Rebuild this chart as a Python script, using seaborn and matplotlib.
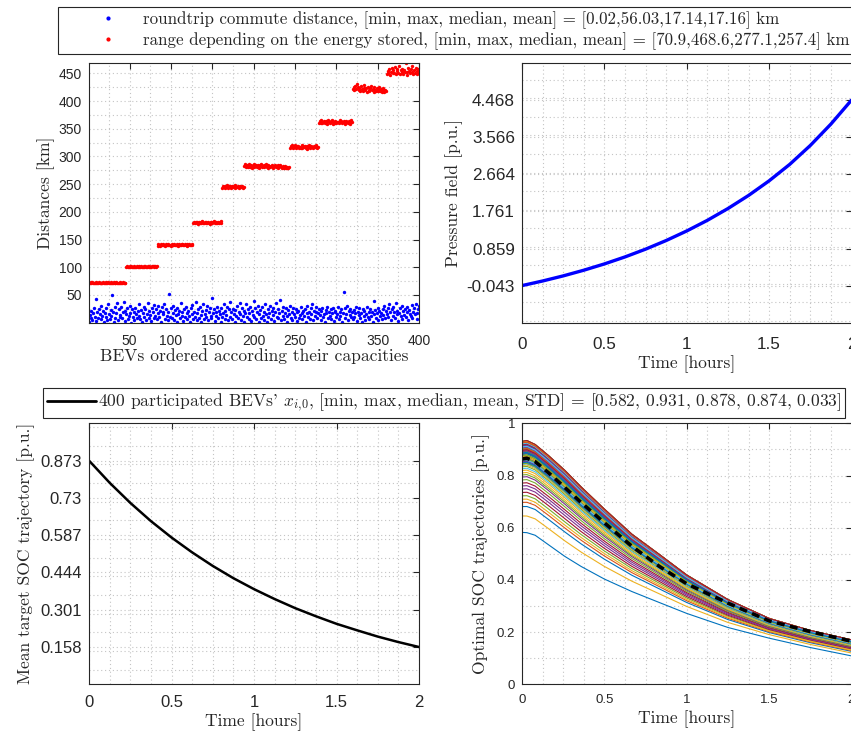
import numpy as np
import pandas as pd
import seaborn as sns
import matplotlib.pyplot as plt
from matplotlib.ticker import MultipleLocator
from matplotlib.lines import Line2D

sns.set_style("white")
plt.rcParams["font.family"] = ["Liberation Sans", "DejaVu Sans"]
plt.rcParams["mathtext.fontset"] = "cm"
plt.rcParams["axes.unicode_minus"] = False

SERIF = "cmr10"
INK = "#262626"
MATLAB_COLORS = ["#0072BD", "#D95319", "#EDB120", "#7E2F8E", "#77AC30", "#4DBEEE", "#A2142F"]

# roundtrip commute distance per BEV [km]
commute_km = [
    2, 14, 8, 21, 5, 17, 27, 11, 3, 42, 19, 9, 24, 15, 6, 30, 12, 22, 1, 18,
    26, 10, 4, 33, 16, 7, 23, 13, 50, 20, 2, 28, 9, 17, 35, 5, 25, 14, 11, 29,
    8, 19, 37, 3, 22, 15, 27, 6, 12, 31, 18, 0.02, 24, 10, 20, 4, 26, 16, 9, 21,
    13, 34, 7, 23, 2, 18, 29, 11, 25, 5, 16, 36, 9, 21, 14, 3, 27, 19, 8, 32,
    12, 24, 6, 17, 30, 10, 22, 1, 28, 15, 19, 33, 7, 25, 13, 4, 20, 52, 11, 26,
    9, 18, 31, 5, 23, 14, 2, 27, 16, 21, 8, 35, 12, 19, 3, 24, 10, 29, 6, 17,
    22, 13, 1, 26, 15, 32, 7, 20, 11, 38, 4, 18, 25, 9, 28, 14, 2, 21, 34, 6,
    16, 23, 10, 30, 5, 19, 27, 12, 8, 45, 17, 24, 3, 20, 13, 29, 9, 22, 15, 1,
    26, 11, 18, 33, 6, 21, 14, 28, 4, 24, 37, 10, 19, 7, 25, 16, 2, 23, 12, 31,
    8, 20, 35, 15, 5, 27, 13, 22, 1, 18, 34, 10, 24, 6, 17, 29, 3, 21, 14, 39,
    11, 26, 7, 19, 31, 2, 16, 23, 9, 28, 13, 5, 20, 33, 15, 1, 25, 10, 18, 30,
    6, 22, 14, 27, 3, 19, 35, 11, 24, 8, 17, 41, 4, 21, 13, 29, 7, 18, 26, 12,
    2, 23, 15, 31, 9, 20, 5, 27, 16, 11, 25, 3, 19, 22, 8, 14, 28, 17, 6, 21,
    13, 24, 1, 18, 30, 10, 20, 7, 26, 15, 33, 4, 22, 12, 19, 28, 9, 17, 25, 14,
    5, 21, 27, 11, 16, 2, 23, 18, 29, 8, 20, 13, 24, 6, 17, 26, 3, 19, 22, 10,
    15, 28, 7, 20, 12, 24, 1, 18, 56.03, 27, 9, 16, 31, 4, 22, 14, 25, 10, 19, 6,
    23, 11, 17, 29, 3, 20, 14, 26, 8, 18, 2, 24, 12, 21, 5, 16, 28, 10, 19, 7,
    25, 13, 20, 1, 40, 15, 23, 9, 17, 27, 4, 21, 12, 18, 6, 24, 14, 30, 8, 22,
    16, 26, 11, 33, 19, 5, 24, 13, 28, 20, 9, 35, 15, 22, 3, 18, 27, 12, 31, 7,
    21, 14, 25, 10, 19, 29, 4, 23, 16, 12, 32, 8, 20, 27, 15, 33, 6, 18, 24, 30,
]

# range depending on the energy stored [km], BEVs ordered by capacity
range_km = [
    72.3, 71.8, 72.6, 71.2, 72.9, 72.1, 71.5, 72.4, 73.0, 71.9, 72.2, 70.9, 72.7, 71.6, 72.5,
    72.0, 71.4, 73.2, 72.3, 71.7, 72.8, 72.1, 71.3, 72.6, 71.9, 72.4, 73.1, 71.8, 72.2, 71.5,
    72.7, 72.0, 71.6, 72.9, 72.3, 71.2, 72.5, 71.8, 72.6, 72.1, 71.4, 72.8, 72.0, 71.7, 72.3,
    100.2, 101.5, 99.8, 101.1, 102.0, 100.6, 101.8, 100.1, 101.3, 102.2, 100.7, 101.0, 99.9,
    101.6, 100.4, 102.1, 101.2, 100.8, 101.9, 100.3, 101.4, 102.4, 100.9, 101.7, 100.0, 101.3,
    102.6, 100.5, 101.8, 101.1, 100.6, 102.0, 101.5, 100.2, 101.9, 102.3, 101.0, 101.6,
    139.2, 141.5, 140.1, 138.8, 141.9, 140.6, 139.5, 142.2, 140.9, 139.1, 141.3, 140.3, 142.5,
    139.7, 141.0, 140.7, 138.9, 141.8, 140.2, 139.6, 142.0, 141.1, 139.9, 140.5, 142.4, 139.3,
    141.6, 140.8, 139.4, 141.2, 142.7, 140.0, 139.8, 141.4, 140.4, 141.7, 139.0, 140.9, 142.1,
    139.5, 140.6, 141.3, 139.7,
    179.3, 181.8, 180.2, 182.4, 179.9, 181.1, 178.7, 182.0, 180.6, 179.5, 181.5, 183.0, 180.0,
    179.1, 181.9, 180.8, 182.6, 179.7, 181.3, 180.4, 178.9, 182.2, 181.0, 179.6, 180.9, 182.8,
    180.3, 179.2, 181.6, 180.7, 182.1, 179.8, 181.4, 183.2, 180.5,
    243.5, 246.8, 244.2, 247.5, 242.9, 245.6, 248.1, 243.8, 246.2, 244.7, 247.0, 242.6, 245.9,
    244.0, 246.5, 243.2, 247.8, 245.3, 244.4, 246.9, 243.6, 245.1, 247.3, 244.8, 246.0, 243.9,
    245.5,
    283.5, 286.0, 281.2, 284.8, 280.5, 282.9, 285.6, 281.8, 284.1, 279.9, 283.3, 286.4, 281.0,
    282.6, 285.0, 280.8, 284.4, 282.0, 279.6, 283.8, 285.9, 281.5, 282.8, 284.6, 280.2, 283.1,
    286.2, 281.3, 279.8, 284.0, 282.4, 280.6, 283.6, 285.3, 281.1, 279.4, 282.7, 284.9, 280.3,
    281.9, 283.9, 279.1, 282.2, 285.4, 280.7, 278.8, 282.5, 281.6, 279.5, 283.4, 280.0, 278.6,
    281.4, 279.3, 280.9,
    315.2, 318.9, 316.4, 319.8, 314.6, 317.5, 320.2, 315.9, 318.1, 316.8, 319.3, 314.9, 317.9,
    316.1, 320.6, 315.5, 318.6, 317.2, 319.5, 316.0, 314.3, 318.3, 317.0, 320.0, 315.7, 316.6,
    319.1, 317.7, 315.0, 318.8, 316.3, 319.9, 317.4, 314.8, 316.9,
    360.5, 363.8, 361.2, 365.0, 359.6, 362.7, 364.4, 360.1, 363.2, 361.8, 358.9, 364.9, 362.1,
    360.8, 363.5, 361.4, 365.6, 359.3, 362.9, 361.0, 364.1, 360.3, 363.0, 362.4, 359.8, 365.3,
    361.6, 363.7, 360.0, 362.2, 364.6, 361.3, 359.1, 363.4, 362.0, 360.6, 364.0, 358.7, 361.9,
    366.5, 362.6,
    421.5, 424.8, 419.6, 427.3, 422.0, 430.2, 425.1, 420.4, 423.7, 418.8, 426.5, 421.9, 417.6,
    424.0, 428.4, 419.9, 422.6, 416.8, 425.6, 420.7, 418.2, 423.3, 427.0, 419.1, 421.2, 416.3,
    424.4, 420.0, 418.6, 422.9, 417.4, 420.9, 425.3, 418.0, 421.6, 416.9, 419.4, 423.0, 417.1,
    420.3, 418.4,
    448.2, 454.6, 450.9, 457.8, 446.5, 452.3, 459.4, 449.7, 455.8, 451.1, 461.2, 447.9, 453.5,
    457.0, 450.2, 462.8, 448.8, 455.1, 452.7, 458.6, 449.3, 456.4, 451.8, 468.6, 453.0, 447.4,
    459.9, 454.2, 450.6, 457.3, 452.0, 463.5, 449.0, 455.5, 451.4, 460.4, 453.8, 448.5, 456.9,
    452.5,
]

# pressure field over time
pressure_t = [0, 0.125, 0.25, 0.375, 0.5, 0.625, 0.75, 0.875, 1.0,
              1.125, 1.25, 1.375, 1.5, 1.625, 1.75, 1.875, 2.0]
pressure_pu = [-0.043, 0.069, 0.193, 0.331, 0.484, 0.654, 0.843, 1.053, 1.286,
               1.544, 1.831, 2.149, 2.505, 2.905, 3.365, 3.885, 4.468]
pressure_ticks = [-0.043, 0.859, 1.761, 2.664, 3.566, 4.468]

# mean target SOC trajectory
target_t = pressure_t
target_soc = [0.873, 0.788, 0.711, 0.641, 0.578, 0.521, 0.469, 0.422, 0.380,
              0.342, 0.307, 0.276, 0.247, 0.222, 0.198, 0.177, 0.158]
target_ticks = [0.158, 0.301, 0.444, 0.587, 0.73, 0.873]

# optimal SOC trajectories: lowest and highest BEV, and the mean (dashed)
traj_t = [0, 0.03, 0.08, 0.16, 0.26, 0.36, 0.5, 0.667, 0.833, 1.0, 1.25, 1.5, 1.75, 2.0]
soc_lowest = [0.583, 0.582, 0.572, 0.536, 0.491, 0.452, 0.404, 0.356, 0.314, 0.272, 0.218, 0.177, 0.141, 0.109]
soc_highest = [0.929, 0.932, 0.917, 0.875, 0.818, 0.754, 0.670, 0.574, 0.497, 0.418, 0.324, 0.252, 0.206, 0.170]
soc_mean = [0.863, 0.866, 0.853, 0.811, 0.754, 0.696, 0.619, 0.529, 0.452, 0.385, 0.311, 0.243, 0.202, 0.165]

# initial SOC x_i0 of the 400 BEVs
soc_init = [
    0.582, 0.889, 0.645, 0.901, 0.872, 0.915, 0.858, 0.681, 0.697, 0.884, 0.926, 0.722, 0.866, 0.735, 0.893, 0.878, 0.709, 0.907, 0.851, 0.919,
    0.874, 0.896, 0.862, 0.911, 0.748, 0.883, 0.929, 0.869, 0.903, 0.855, 0.890, 0.760, 0.917, 0.876, 0.844, 0.899, 0.881, 0.923, 0.866, 0.906,
    0.887, 0.771, 0.912, 0.859, 0.895, 0.879, 0.931, 0.868, 0.902, 0.847, 0.885, 0.918, 0.873, 0.783, 0.908, 0.864, 0.892, 0.880, 0.924, 0.856,
    0.897, 0.870, 0.914, 0.852, 0.888, 0.905, 0.794, 0.877, 0.921, 0.861, 0.894, 0.882, 0.909, 0.848, 0.886, 0.927, 0.871, 0.899, 0.863, 0.913,
    0.880, 0.802, 0.904, 0.867, 0.890, 0.916, 0.857, 0.884, 0.898, 0.875, 0.922, 0.853, 0.891, 0.810, 0.910, 0.869, 0.887, 0.928, 0.860, 0.900,
    0.876, 0.913, 0.849, 0.893, 0.882, 0.906, 0.865, 0.819, 0.920, 0.878, 0.896, 0.854, 0.911, 0.886, 0.872, 0.925, 0.862, 0.889, 0.903, 0.845,
    0.894, 0.879, 0.917, 0.858, 0.826, 0.901, 0.870, 0.888, 0.923, 0.864, 0.897, 0.881, 0.908, 0.851, 0.891, 0.919, 0.874, 0.833, 0.905, 0.868,
    0.885, 0.912, 0.856, 0.899, 0.877, 0.926, 0.863, 0.892, 0.909, 0.838, 0.883, 0.871, 0.915, 0.860, 0.895, 0.880, 0.930, 0.866, 0.902, 0.843,
    0.890, 0.875, 0.918, 0.852, 0.887, 0.907, 0.869, 0.897, 0.921, 0.859, 0.884, 0.914, 0.873, 0.893, 0.850, 0.910, 0.878, 0.924, 0.865, 0.900,
    0.882, 0.916, 0.857, 0.889, 0.904, 0.871, 0.927, 0.862, 0.896, 0.879, 0.911, 0.846, 0.886, 0.920, 0.868, 0.898, 0.876, 0.908, 0.855, 0.893,
    0.880, 0.922, 0.864, 0.901, 0.874, 0.913, 0.849, 0.888, 0.905, 0.870, 0.929, 0.860, 0.894, 0.883, 0.917, 0.853, 0.891, 0.878, 0.910, 0.867,
    0.899, 0.876, 0.923, 0.858, 0.886, 0.906, 0.872, 0.895, 0.915, 0.844, 0.884, 0.902, 0.869, 0.919, 0.861, 0.890, 0.881, 0.926, 0.856, 0.897,
    0.877, 0.911, 0.866, 0.892, 0.904, 0.851, 0.887, 0.921, 0.873, 0.900, 0.859, 0.914, 0.882, 0.896, 0.868, 0.925, 0.847, 0.889, 0.908, 0.875,
    0.893, 0.863, 0.918, 0.879, 0.901, 0.854, 0.886, 0.912, 0.870, 0.897, 0.930, 0.857, 0.884, 0.906, 0.865, 0.891, 0.920, 0.850, 0.880, 0.909,
    0.871, 0.898, 0.862, 0.916, 0.883, 0.903, 0.848, 0.890, 0.924, 0.874, 0.895, 0.858, 0.913, 0.878, 0.887, 0.907, 0.866, 0.922, 0.853, 0.894,
    0.882, 0.910, 0.869, 0.899, 0.876, 0.927, 0.860, 0.889, 0.904, 0.846, 0.885, 0.917, 0.872, 0.893, 0.856, 0.911, 0.879, 0.901, 0.864, 0.920,
    0.888, 0.852, 0.905, 0.877, 0.915, 0.867, 0.896, 0.881, 0.923, 0.859, 0.892, 0.908, 0.873, 0.845, 0.900, 0.884, 0.919, 0.863, 0.890, 0.876,
    0.912, 0.855, 0.897, 0.880, 0.926, 0.868, 0.886, 0.903, 0.850, 0.894, 0.875, 0.916, 0.861, 0.889, 0.907, 0.871, 0.899, 0.882, 0.921, 0.857,
    0.891, 0.874, 0.910, 0.865, 0.898, 0.883, 0.928, 0.853, 0.887, 0.905, 0.870, 0.914, 0.879, 0.895, 0.858, 0.902, 0.884, 0.918, 0.866, 0.893,
    0.878, 0.906, 0.862, 0.921, 0.885, 0.849, 0.900, 0.873, 0.913, 0.889, 0.857, 0.896, 0.881, 0.925, 0.868, 0.892, 0.876, 0.909, 0.931, 0.886,
]

legend_top = [
    "roundtrip commute distance, [min, max, median, mean] = [0.02,56.03,17.14,17.16] km",
    "range depending on the energy stored, [min, max, median, mean] = [70.9,468.6,277.1,257.4] km",
]
legend_bottom = ("400 participated BEVs' $x_{i,\\!0}$, [min, max, median, mean, STD] = "
                 "[0.582, 0.931, 0.878, 0.874, 0.033]")

LABEL_SIZE = 12.6


def matlab_axes(ax, xminor, yminor, ticksize, xpad):
    for s in ax.spines.values():
        s.set_color(INK)
        s.set_linewidth(0.8)
    ax.xaxis.set_minor_locator(MultipleLocator(xminor))
    ax.yaxis.set_minor_locator(MultipleLocator(yminor))
    ax.tick_params(which="major", direction="in", length=4, width=0.8,
                   top=True, right=True, labelsize=ticksize, colors=INK, pad=5)
    ax.tick_params(axis="x", which="major", pad=xpad)
    ax.tick_params(which="minor", length=0)
    ax.grid(True, which="both", linestyle=(0, (1, 2.5)), color="#c4c4c4", linewidth=0.8)
    ax.set_axisbelow(True)


def serif_labels(ax, xlabel, ylabel, xpad=2, ypad=4):
    ax.set_xlabel(xlabel, family=SERIF, fontsize=LABEL_SIZE, color=INK, labelpad=xpad)
    ax.set_ylabel(ylabel, family=SERIF, fontsize=LABEL_SIZE, color=INK, labelpad=ypad)


W, H = 851, 733
fig = plt.figure(figsize=(W / 100, H / 100), dpi=100)


def box(left, top, right, bottom):
    return [left / W, 1 - bottom / H, (right - left) / W, (bottom - top) / H]


ax_tl = fig.add_axes(box(89, 63, 419, 322.7))
ax_tr = fig.add_axes(box(522, 63, 851.5, 322.7))
ax_bl = fig.add_axes(box(89, 423.3, 419, 684.3))
ax_br = fig.add_axes(box(522, 423.3, 851.5, 684.3))

# top-left: distances
bev_index = np.arange(1, len(commute_km) + 1)
sns.scatterplot(x=bev_index, y=commute_km, color="blue", s=6, linewidth=0, ax=ax_tl)
sns.scatterplot(x=np.arange(1, len(range_km) + 1), y=range_km, color="red", s=6,
                linewidth=0, ax=ax_tl)
ax_tl.set_xlim(1, 400)
ax_tl.set_ylim(min(commute_km), max(range_km))
ax_tl.set_xticks(range(50, 401, 50))
ax_tl.set_yticks(range(50, 451, 50))
matlab_axes(ax_tl, 25, 25, 10, xpad=8)
serif_labels(ax_tl, "BEVs ordered according their capacities", "Distances [km]", xpad=0, ypad=3)

# top-right: pressure field
sns.lineplot(x=pressure_t, y=pressure_pu, color="blue", linewidth=2.4, ax=ax_tr)
ax_tr.set_xlim(0, 2)
ax_tr.set_xticks([0, 0.5, 1, 1.5, 2], ["0", "0.5", "1", "1.5", "2"])
ax_tr.set_yticks(pressure_ticks, [f"{v:.3f}" for v in pressure_ticks])
span = pressure_ticks[-1] - pressure_ticks[0]
ax_tr.set_ylim(pressure_ticks[0] - 0.2 * span, pressure_ticks[-1] + 0.2 * span)
matlab_axes(ax_tr, 0.125, span / 10, 12.3, xpad=10)
serif_labels(ax_tr, "Time [hours]", "Pressure field [p.u.]", xpad=3, ypad=3)

# bottom-left: mean target SOC
sns.lineplot(x=target_t, y=target_soc, color="black", linewidth=1.8, ax=ax_bl)
ax_bl.set_xlim(0, 2)
ax_bl.set_xticks([0, 0.5, 1, 1.5, 2], ["0", "0.5", "1", "1.5", "2"])
ax_bl.set_yticks(target_ticks, ["0.158", "0.301", "0.444", "0.587", "0.73", "0.873"])
tspan = target_ticks[-1] - target_ticks[0]
ax_bl.set_ylim(target_ticks[0] - 0.2 * tspan, target_ticks[-1] + 0.2 * tspan)
matlab_axes(ax_bl, 0.125, tspan / 10, 12, xpad=8)
serif_labels(ax_bl, "Time [hours]", "Mean target SOC trajectory [p.u.]", xpad=2, ypad=4)

# bottom-right: optimal SOC trajectories of all BEVs
x0 = np.array(soc_init)
lo, hi = np.array(soc_lowest), np.array(soc_highest)
share = (x0 - lo[0]) / (hi[0] - lo[0])
curves = lo[None, :] + share[:, None] * (hi - lo)[None, :]
n_bev, n_t = curves.shape
traj = pd.DataFrame({
    "t": np.tile(traj_t, n_bev),
    "soc": curves.ravel(),
    "bev": np.repeat([f"b{i:03d}" for i in range(n_bev)], n_t),
})
palette = [MATLAB_COLORS[i % 7] for i in range(n_bev)]
sns.lineplot(data=traj, x="t", y="soc", hue="bev", palette=palette, legend=False,
             estimator=None, sort=False, linewidth=0.8, ax=ax_br)
sns.lineplot(x=traj_t, y=soc_mean, color="black", linewidth=2.6, dashes=False, ax=ax_br)
ax_br.lines[-1].set_dashes((2.2, 1.5))
ax_br.set_xlim(0, 2)
ax_br.set_ylim(0, 1)
ax_br.set_xticks([0, 0.5, 1, 1.5, 2], ["0", "0.5", "1", "1.5", "2"])
ax_br.set_yticks([0, 0.2, 0.4, 0.6, 0.8, 1], ["0", "0.2", "0.4", "0.6", "0.8", "1"])
matlab_axes(ax_br, 0.125, 0.1, 9.5, xpad=7)
serif_labels(ax_br, "Time [hours]", "Optimal SOC trajectories [p.u.]", xpad=3, ypad=5)

# legends
top_handles = [Line2D([], [], marker=".", linestyle="none", color=c, markersize=4)
               for c in ("blue", "red")]
leg1 = fig.legend(top_handles, legend_top, loc="upper left",
                  bbox_to_anchor=(58 / W, 1 - 7 / H), borderaxespad=0,
                  frameon=True, fancybox=False, edgecolor=INK, framealpha=1,
                  prop={"family": SERIF, "size": 12.2}, handlelength=5.4,
                  handletextpad=-0.63, borderpad=0.25, labelspacing=0.18)
leg1.get_frame().set_linewidth(0.8)

leg2 = fig.legend([Line2D([], [], color="black", linewidth=2)], [legend_bottom],
                  loc="upper left", bbox_to_anchor=(43 / W, 1 - 388 / H), borderaxespad=0,
                  frameon=True, fancybox=False, edgecolor=INK, framealpha=1,
                  prop={"family": SERIF, "size": 12.6}, handlelength=2.8,
                  handletextpad=0.12, borderpad=0.22)
leg2.get_frame().set_linewidth(0.8)

fig.savefig("out.png", dpi=100)
